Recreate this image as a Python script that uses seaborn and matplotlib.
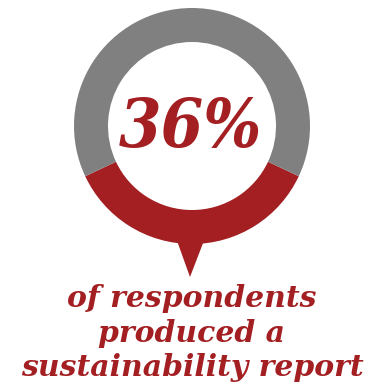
import matplotlib
matplotlib.use("Agg")
import matplotlib.pyplot as plt
import seaborn as sns

# Share of respondents
labels = ["Produced a report", "Did not"]
shares = [36, 64]
caption = "of respondents\nproduced a\nsustainability report"

RED = "#A31F22"
GRAY = "#808080"

sns.set_theme(style="white")
plt.rcParams["font.family"] = ["DejaVu Serif"]

W, H = 377, 385
fig = plt.figure(figsize=(W / 100, H / 100), dpi=100)
ax = fig.add_axes([0, 0, 1, 1])

cx, cy, r = 192, H - 126, 118
start = 270 - shares[0] / 100 * 180
ax.pie(shares, colors=[RED, GRAY], startangle=start, counterclock=True,
       center=(cx, cy), radius=r,
       wedgeprops=dict(width=34, linewidth=0))

# pointer below the ring
ax.fill([176, 205, 190], [H - 238, H - 238, H - 277], color=RED, lw=0)

ax.set_xlim(0, W)
ax.set_ylim(0, H)
ax.set_aspect("equal")
ax.axis("off")

ax.text(cx - 2, cy - 2, f"{shares[0]}%", ha="center", va="center", color=RED,
        fontsize=49, fontweight="bold", fontstyle="italic",
        fontstretch="condensed")
ax.text(cx, H - 333, caption, ha="center", va="center", color=RED,
        fontsize=21.5, fontweight="bold", fontstyle="italic", linespacing=1.23)

fig.savefig("out.png", dpi=100)
